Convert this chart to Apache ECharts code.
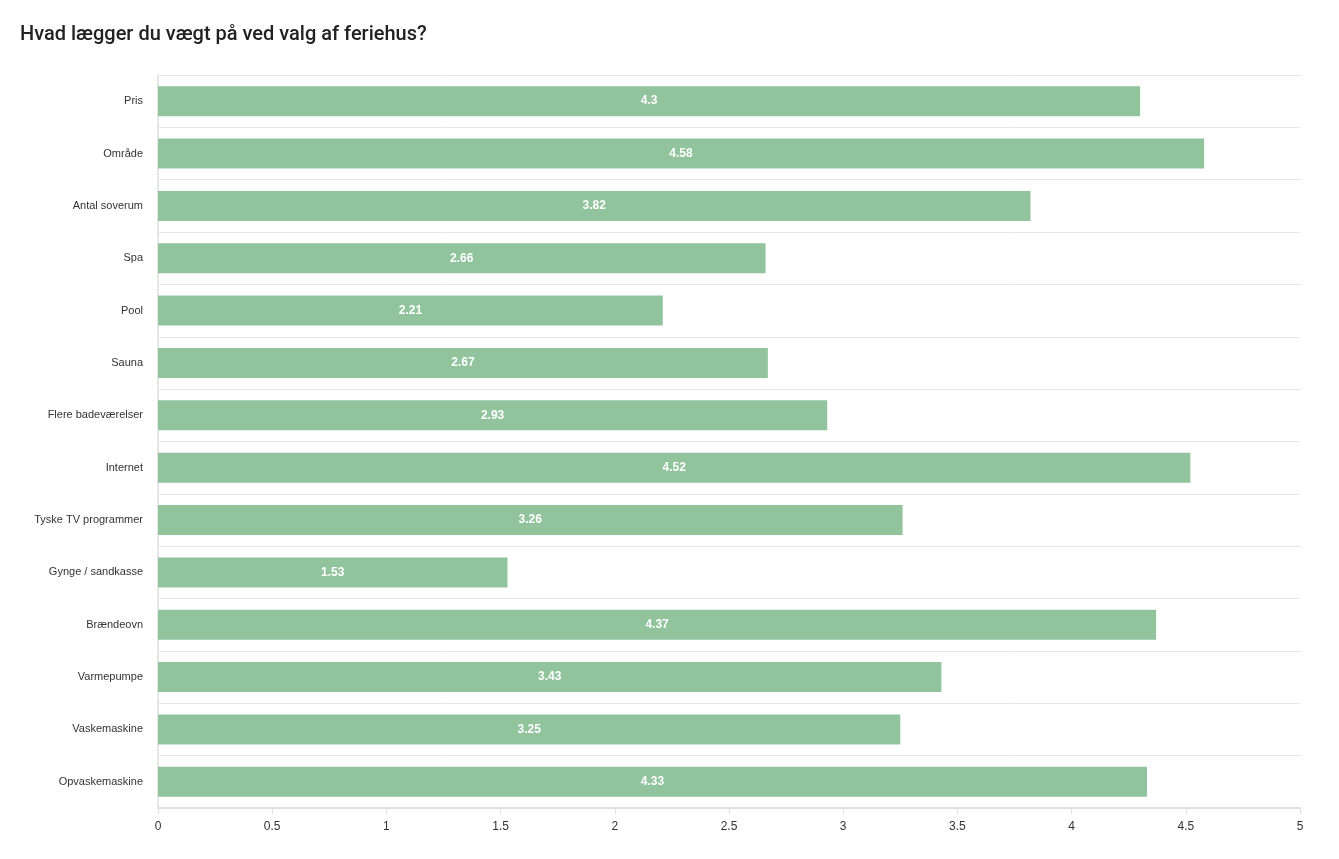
<!DOCTYPE html>
<html><head><meta charset="utf-8">
<script src="https://cdn.jsdelivr.net/npm/echarts@6/dist/echarts.min.js"></script>
<style>html,body{margin:0;padding:0;background:#fff}#c{width:1339px;height:859px}</style>
</head><body><div id="c"></div>
<script>
const categories = ["Pris","Område","Antal soverum","Spa","Pool","Sauna","Flere badeværelser","Internet","Tyske TV programmer","Gynge / sandkasse","Brændeovn","Varmepumpe","Vaskemaskine","Opvaskemaskine"];
const values = [4.3,4.58,3.82,2.66,2.21,2.67,2.93,4.52,3.26,1.53,4.37,3.43,3.25,4.33];
const xTicks = [0,0.5,1,1.5,2,2.5,3,3.5,4,4.5,5];
const chart = echarts.init(document.getElementById('c'));
chart.setOption({
  animation:false,
  title:{text:"Hvad lægger du vægt på ved valg af feriehus?",left:15,top:20,textStyle:{fontFamily:"Roboto",fontSize:20,fontWeight:500,color:"#222"}},
  grid:{left:158,right:39,top:75,bottom:51,containLabel:false},
  xAxis:{type:'value',min:xTicks[0],max:xTicks[xTicks.length-1],interval:0.5,
    axisLine:{show:true,lineStyle:{color:'#e0e0e0',width:2}},
    axisTick:{show:true,length:6,lineStyle:{color:'#e0e0e0'}},
    splitLine:{show:false},
    axisLabel:{color:'#333',fontFamily:'Liberation Sans, Arial',fontSize:12,margin:13}},
  yAxis:{type:'category',data:categories,inverse:true,
    axisLine:{show:true,lineStyle:{color:'#e6e6e6',width:2}},
    axisTick:{show:false},
    splitLine:{show:true,lineStyle:{color:'#e6e6e6',width:1}},
    axisLabel:{color:'#333',fontFamily:'Liberation Sans, Arial',fontSize:11,margin:15}},
  series:[{type:'bar',data:values,barWidth:30,
    itemStyle:{color:'#91c39d'},
    label:{show:true,position:'inside',color:'#fff',fontWeight:'bold',fontFamily:'Liberation Sans, Arial',fontSize:12}}]
});
</script></body></html>
